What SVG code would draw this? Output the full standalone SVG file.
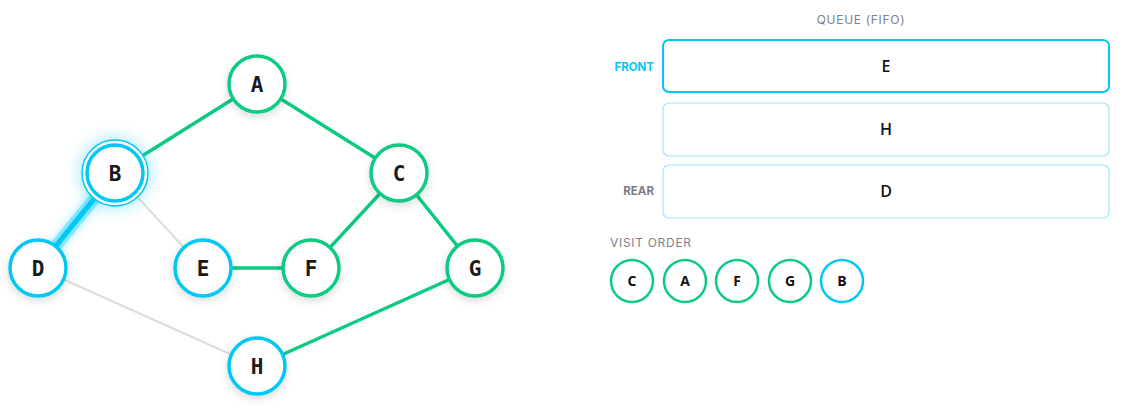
<svg xmlns="http://www.w3.org/2000/svg" width="1124" height="411" viewBox="0 0 1124 411">
<defs>
<filter id="sh" x="-50%" y="-50%" width="200%" height="200%">
<feDropShadow dx="0" dy="3" stdDeviation="4" flood-color="#000" flood-opacity="0.15"/>
</filter>
<filter id="glow" x="-100%" y="-100%" width="300%" height="300%">
<feGaussianBlur stdDeviation="5" result="b"/>
<feMerge><feMergeNode in="b"/><feMergeNode in="SourceGraphic"/></feMerge>
</filter>
<filter id="soft" x="-100%" y="-100%" width="300%" height="300%">
<feGaussianBlur stdDeviation="7"/>
</filter>
</defs>
<style>
.e{stroke-width:3.5;stroke-linecap:round;fill:none}
.g{stroke:#0ccb80}
.gr{stroke:#dcdcdc;stroke-width:2}
.cy{stroke:#00c8f5}
.n circle.m{fill:#fff;stroke-width:3.5}
.nt{font-family:"DejaVu Sans Mono",monospace;font-weight:bold;font-size:21px;fill:#1a1a1a;text-anchor:middle}
.lbl{font-family:Inter,"Liberation Sans",sans-serif;font-size:12px;fill:#80808a;letter-spacing:0.7px}
.qb{fill:#fff;stroke:#9ee6fb;stroke-width:1.2}
.qt{font-family:"Open Sans","Liberation Sans",sans-serif;font-weight:600;font-size:16px;fill:#111;text-anchor:middle}
.vt{font-family:"Open Sans","Liberation Sans",sans-serif;font-weight:bold;font-size:14px;fill:#111;text-anchor:middle}
.vc{fill:#fff;stroke-width:2.5}
</style>
<g id="connectors">
<line class="e g" x1="115" y1="173" x2="257" y2="84"/>
<line class="e g" x1="257" y1="84" x2="399" y2="173"/>
<line class="e g" x1="399" y1="173" x2="311" y2="268"/>
<line class="e g" x1="399" y1="173" x2="475" y2="268"/>
<line class="e g" x1="203" y1="268" x2="311" y2="268"/>
<line class="e g" x1="475" y1="268" x2="257" y2="366"/>
<line class="e gr" x1="115" y1="173" x2="203" y2="268"/>
<line class="e gr" x1="38" y1="268" x2="257" y2="366"/>
<line x1="115" y1="173" x2="38" y2="268" stroke="#00c8f5" stroke-width="12" stroke-opacity="0.35" stroke-linecap="round" filter="url(#glow)"/>
<line class="cy" x1="115" y1="173" x2="38" y2="268" stroke-width="5" stroke-linecap="round"/>
</g>
<g id="node-A" class="n"><circle class="m g" cx="257" cy="84" r="28" filter="url(#sh)"/><text class="nt" x="257" y="92">A</text></g>
<g id="node-B" class="n">
<circle cx="115" cy="173" r="38" fill="#00c8f5" fill-opacity="0.25" filter="url(#soft)"/>
<circle cx="115" cy="173" r="33" fill="#fff" stroke="#00c8f5" stroke-width="1.5"/>
<circle class="m cy" cx="115" cy="173" r="28" stroke-width="4.5"/>
<text class="nt" x="115" y="181">B</text></g>
<g id="node-C" class="n"><circle class="m g" cx="399" cy="173" r="28" filter="url(#sh)"/><text class="nt" x="399" y="181">C</text></g>
<g id="node-D" class="n"><circle class="m cy" cx="38" cy="268" r="28" filter="url(#sh)"/><text class="nt" x="38" y="276">D</text></g>
<g id="node-E" class="n"><circle class="m cy" cx="203" cy="268" r="28" filter="url(#sh)"/><text class="nt" x="203" y="276">E</text></g>
<g id="node-F" class="n"><circle class="m g" cx="311" cy="268" r="28" filter="url(#sh)"/><text class="nt" x="311" y="276">F</text></g>
<g id="node-G" class="n"><circle class="m g" cx="475" cy="268" r="28" filter="url(#sh)"/><text class="nt" x="475" y="276">G</text></g>
<g id="node-H" class="n"><circle class="m cy" cx="257" cy="366" r="28" filter="url(#sh)"/><text class="nt" x="257" y="374">H</text></g>
<g id="queue">
<text class="lbl" x="861" y="24" text-anchor="middle">QUEUE (FIFO)</text>
<text x="654" y="71" text-anchor="end" font-family="Inter,'Liberation Sans',sans-serif" font-weight="bold" font-size="11.5" fill="#00c8f5">FRONT</text>
<rect x="663" y="40" width="446" height="52" rx="6" fill="#fff" stroke="#00c8f5" stroke-width="2"/>
<text class="qt" x="886" y="72">E</text>
<rect class="qb" x="663" y="103" width="446" height="53" rx="6"/>
<text class="qt" x="886" y="135">H</text>
<text x="654" y="195" text-anchor="end" font-family="Inter,'Liberation Sans',sans-serif" font-weight="bold" font-size="11.5" fill="#7c7c86">REAR</text>
<rect class="qb" x="663" y="165" width="446" height="53" rx="6"/>
<text class="qt" x="886" y="197">D</text>
</g>
<g id="visit-order">
<text class="lbl" x="610" y="247">VISIT ORDER</text>
<circle class="vc" cx="632" cy="281" r="21" stroke="#0ccb80"/><text class="vt" x="632" y="286">C</text>
<circle class="vc" cx="685" cy="281" r="21" stroke="#0ccb80"/><text class="vt" x="685" y="286">A</text>
<circle class="vc" cx="737" cy="281" r="21" stroke="#0ccb80"/><text class="vt" x="737" y="286">F</text>
<circle class="vc" cx="790" cy="281" r="21" stroke="#0ccb80"/><text class="vt" x="790" y="286">G</text>
<circle class="vc" cx="842" cy="281" r="21" stroke="#00c8f5"/><text class="vt" x="842" y="286">B</text>
</g>
</svg>
